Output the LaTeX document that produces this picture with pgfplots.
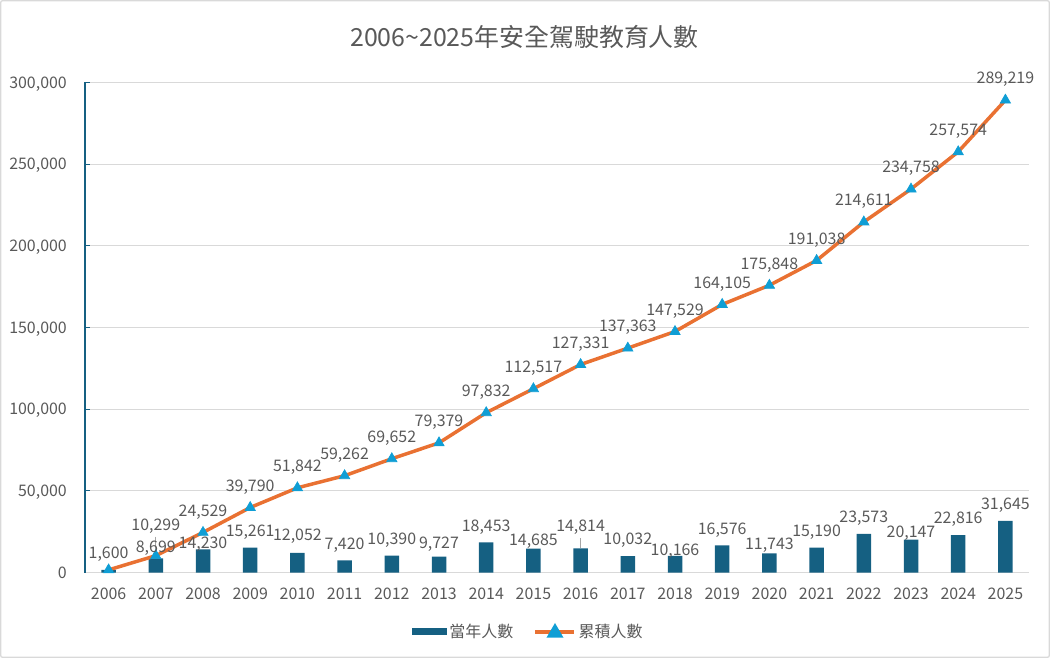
\documentclass[border=0pt]{standalone}
\usepackage{pgfplots}
\pgfplotsset{compat=1.18}
\usepackage{pgfplotstable}
\usepackage{fontspec}
\setmainfont{Noto Sans CJK TC}
\definecolor{barc}{HTML}{156082}
\definecolor{linec}{HTML}{E97132}
\definecolor{markc}{HTML}{0F9ED5}
\definecolor{txt}{HTML}{595959}
\definecolor{gridc}{HTML}{D9D9D9}
\definecolor{leadc}{HTML}{A6A6A6}

\pgfplotstableread{
x y
0 1600
1 8699
2 14230
3 15261
4 12052
5 7420
6 10390
7 9727
8 18453
9 14685
10 14814
11 10032
12 10166
13 16576
14 11743
15 15190
16 23573
17 20147
18 22816
19 31645
}\bars

\pgfplotstableread{
x y
0 1600
1 10299
2 24529
3 39790
4 51842
5 59262
6 69652
7 79379
8 97832
9 112517
10 127331
11 137363
12 147529
13 164105
14 175848
15 191038
16 214611
17 234758
18 257574
19 289219
}\cum

\pgfplotstableread{
x ly lab
1 15612 8,699
2 18061 14,230
3 25408 15,261
4 23265 12,052
5 17755 7,420
6 20816 10,390
7 18061 9,727
8 28469 18,453
9 20204 14,685
10 28469 14,814
11 20510 10,032
12 14082 10,166
13 26939 16,576
14 17755 11,743
15 25408 15,190
16 33979 23,573
17 24796 20,147
18 33367 22,816
19 41938 31,645
}\barlab

\pgfplotstableread{
x ly lab
0 12008 1,600
1 29278 10,299
2 37998 24,529
3 53259 39,790
4 65311 51,842
5 72731 59,262
6 83121 69,652
7 92848 79,379
8 111301 97,832
9 125986 112,517
10 140800 127,331
11 150832 137,363
12 160998 147,529
13 177574 164,105
14 189317 175,848
15 204507 191,038
16 228080 214,611
17 248227 234,758
18 271043 257,574
19 302688 289,219
}\cumlab

\begin{document}
\begin{tikzpicture}
\useasboundingbox (0,0) rectangle (1050bp,658bp);
\draw[gridc, line width=1.3bp, rounded corners=2bp] (0.65bp,0.65bp) rectangle (1049.35bp,657.35bp);
\node[font=\fontsize{25}{30}\selectfont, text=txt, anchor=base, inner sep=0pt] at (524.5bp,611bp) {2006\textasciitilde 2025年安全駕駛教育人數};
\begin{axis}[
  at={(85bp,85.5bp)}, anchor=south west,
  scale only axis, width=944bp, height=490bp,
  xmin=-0.5, xmax=19.5, ymin=0, ymax=300000,
  clip=false,
  axis x line*=bottom, axis y line*=left,
  x axis line style={draw=gridc, line width=1bp, -},
  y axis line style={draw=barc, line width=1.2bp, -},
  xtick={0,...,19},
  xticklabels={2006,2007,2008,2009,2010,2011,2012,2013,2014,2015,2016,2017,2018,2019,2020,2021,2022,2023,2024,2025},
  x tick style={draw=none},
  ytick={0,50000,100000,150000,200000,250000,300000},
  ytick align=inside, major tick length=5bp,
  y tick style={draw=barc, line width=1.2bp},
  ymajorgrids, grid style={draw=gridc, line width=1bp},
  scaled y ticks=false,
  /pgf/number format/assume math mode=true,
  yticklabel={\pgfmathprintnumber[fixed, precision=0, 1000 sep={,}]{\tick}},
  yticklabel style={font=\fontsize{16}{19}\selectfont, text=txt, anchor=base east, inner sep=0pt, xshift=-18bp, yshift=-5.8bp},
  xticklabel style={font=\fontsize{16}{19}\selectfont, text=txt, anchor=base, inner sep=0pt, yshift=-26.5bp},
  legend columns=2,
  legend style={at={(0.4698,-0.1214)}, anchor=center, draw=none, fill=none,
    font=\fontsize{16}{19}\selectfont, text=txt, inner sep=0pt, row sep=0pt,
    nodes={inner sep=2.5bp},
    /tikz/every even column/.append style={column sep=18bp}},
]
\addplot[ybar, bar width=14.5bp, fill=barc, draw=none,
  legend image code/.code={\fill[barc] (0bp,-3.5bp) rectangle (35bp,3.5bp);}]
  table[x=x,y=y]{\bars};
\addlegendentry{當年人數}
\addplot[leadc, line width=0.75bp, forget plot] coordinates {(1,21918) (1,8699)};
\addplot[leadc, line width=0.75bp, forget plot] coordinates {(10,21122) (10,14814)};
\addplot[linec, line width=3.5bp, mark=triangle*, mark size=6bp,
  mark options={fill=markc, draw=markc, line width=0.6bp, solid},
  legend image code/.code={\draw[linec, line width=3.5bp] (0bp,0bp) -- (39bp,0bp);
    \fill[markc] (14bp,-4bp) -- (25bp,-4bp) -- (19.5bp,5.5bp) -- cycle;}]
  table[x=x,y=y]{\cum};
\addlegendentry{累積人數}
\addplot[draw=none, mark=none, forget plot, nodes near coords, point meta=explicit symbolic,
  nodes near coords style={font=\fontsize{16}{19}\selectfont, text=txt, anchor=base, inner sep=0pt, yshift=-5.8bp}]
  table[x=x, y=ly, meta=lab]{\barlab};
\addplot[draw=none, mark=none, forget plot, nodes near coords, point meta=explicit symbolic,
  nodes near coords style={font=\fontsize{16}{19}\selectfont, text=txt, anchor=base, inner sep=0pt, yshift=-5.8bp}]
  table[x=x, y=ly, meta=lab]{\cumlab};
\end{axis}
\end{tikzpicture}
\end{document}
